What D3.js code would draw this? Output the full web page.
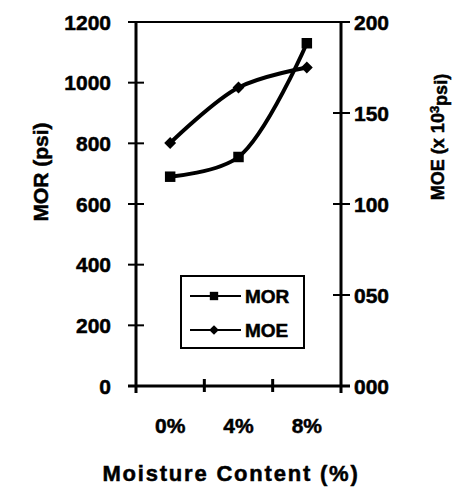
<!DOCTYPE html>
<html><head><meta charset="utf-8">
<script src="https://cdn.jsdelivr.net/npm/d3@7"></script>
<style>
html,body{margin:0;padding:0;background:#fff;}
svg text{font-family:"Liberation Sans",Arial,sans-serif;font-weight:bold;fill:#000;stroke:#000;stroke-width:0.5px;}
</style></head>
<body><svg id="c" width="453" height="488"></svg>
<script>
const categories = ["0%", "4%", "8%"];
const morValues = [690, 755, 1130];
const moeValues = [133.5, 164, 175];
const leftTicks = [0, 200, 400, 600, 800, 1000, 1200];
const rightTicks = [0, 50, 100, 150, 200];
const rightTickLabels = ["000", "050", "100", "150", "200"];

const svg = d3.select("#c");
const L = 136, R = 341, T = 22, B = 386;

const x = d3.scaleBand().domain(categories).range([L, R]).padding(0);
const yL = d3.scaleLinear().domain([0, 1200]).range([B, T]);
const yR = d3.scaleLinear().domain([0, 200]).range([B, T]);
const cx = d => x(d) + x.bandwidth() / 2;

const fs = 21;

// frame top
svg.append("line").attr("x1", L).attr("x2", R).attr("y1", T).attr("y2", T)
  .attr("stroke", "#000").attr("stroke-width", 2);

// left axis
const gL = svg.append("g");
gL.append("line").attr("x1", L).attr("x2", L).attr("y1", T).attr("y2", B + 7)
  .attr("stroke", "#000").attr("stroke-width", 3);
leftTicks.forEach(v => {
  gL.append("line").attr("x1", L - 8).attr("x2", v === 1200 ? L : L + 8)
    .attr("y1", yL(v)).attr("y2", yL(v)).attr("stroke", "#000").attr("stroke-width", 2);
  gL.append("text").attr("x", 111).attr("y", yL(v)).attr("dy", "0.36em")
    .attr("text-anchor", "end").attr("font-size", fs).text(d3.format("d")(v));
});

// right axis
const gR = svg.append("g");
gR.append("line").attr("x1", R).attr("x2", R).attr("y1", T).attr("y2", B + 7)
  .attr("stroke", "#000").attr("stroke-width", 3);
rightTicks.forEach((v, i) => {
  gR.append("line").attr("x1", v === 200 ? R : R - 8).attr("x2", R + 9)
    .attr("y1", yR(v)).attr("y2", yR(v)).attr("stroke", "#000").attr("stroke-width", 2);
  gR.append("text").attr("x", 354).attr("y", yR(v)).attr("dy", "0.36em")
    .attr("text-anchor", "start").attr("font-size", fs).text(rightTickLabels[i]);
});

// bottom axis
const gB = svg.append("g");
gB.append("line").attr("x1", L - 8).attr("x2", R + 9).attr("y1", B).attr("y2", B)
  .attr("stroke", "#000").attr("stroke-width", 3);
categories.slice(1).forEach(c => {
  gB.append("line").attr("x1", x(c)).attr("x2", x(c)).attr("y1", B - 7).attr("y2", B + 6)
    .attr("stroke", "#000").attr("stroke-width", 3);
});
categories.forEach(c => {
  gB.append("text").attr("x", cx(c)).attr("y", 425).attr("dy", "0.36em")
    .attr("text-anchor", "middle").attr("font-size", fs).text(c);
});

// axis titles
svg.append("text").attr("x", 231).attr("y", 473).attr("dy", "0.36em")
  .attr("text-anchor", "middle").attr("font-size", 22).attr("letter-spacing", "1.8")
  .text("Moisture Content (%)");
svg.append("text").attr("transform", "translate(40,172) rotate(-90)")
  .attr("dy", "0.36em").attr("text-anchor", "middle").attr("font-size", 21)
  .text("MOR (psi)");
const rt = svg.append("text").attr("transform", "translate(438,137) rotate(-90)")
  .attr("dy", "0.36em").attr("text-anchor", "middle").attr("font-size", 18);
rt.append("tspan").text("MOE (x 10");
rt.append("tspan").attr("dy", "-0.45em").attr("font-size", 13).text("3");
rt.append("tspan").attr("dy", "0.45em").text("psi)");

// lines
const lineMor = d3.line().x((d, i) => cx(categories[i])).y(d => yL(d)).curve(d3.curveCatmullRom.alpha(0.5));
const lineMoe = d3.line().x((d, i) => cx(categories[i])).y(d => yR(d)).curve(d3.curveCatmullRom.alpha(0.5));
svg.append("path").attr("d", lineMor(morValues)).attr("fill", "none").attr("stroke", "#000").attr("stroke-width", 4);
svg.append("path").attr("d", lineMoe(moeValues)).attr("fill", "none").attr("stroke", "#000").attr("stroke-width", 4);

const diamondType = d3.symbolDiamond2 || d3.symbolDiamond;
const sq = d3.symbol().type(d3.symbolSquare).size(110);
const dm = d3.symbol().type(diamondType).size(90);
morValues.forEach((v, i) => {
  svg.append("path").attr("d", sq()).attr("transform", `translate(${cx(categories[i])},${yL(v)})`).attr("fill", "#000");
});
moeValues.forEach((v, i) => {
  svg.append("path").attr("d", dm()).attr("transform", `translate(${cx(categories[i])},${yR(v)})`).attr("fill", "#000");
});

// legend
const lg = svg.append("g");
lg.append("rect").attr("x", 181).attr("y", 276).attr("width", 123).attr("height", 72)
  .attr("fill", "#fff").attr("stroke", "#000").attr("stroke-width", 2);
const legendItems = [["MOR", d3.symbol().type(d3.symbolSquare).size(70), 296], ["MOE", d3.symbol().type(diamondType).size(60), 330]];
legendItems.forEach(([name, sym, ly]) => {
  lg.append("line").attr("x1", 190).attr("x2", 241).attr("y1", ly).attr("y2", ly)
    .attr("stroke", "#000").attr("stroke-width", 2);
  lg.append("path").attr("d", sym()).attr("transform", `translate(214,${ly})`).attr("fill", "#000");
  lg.append("text").attr("x", 245).attr("y", ly).attr("dy", "0.36em").attr("font-size", 19).text(name);
});
</script></body></html>
